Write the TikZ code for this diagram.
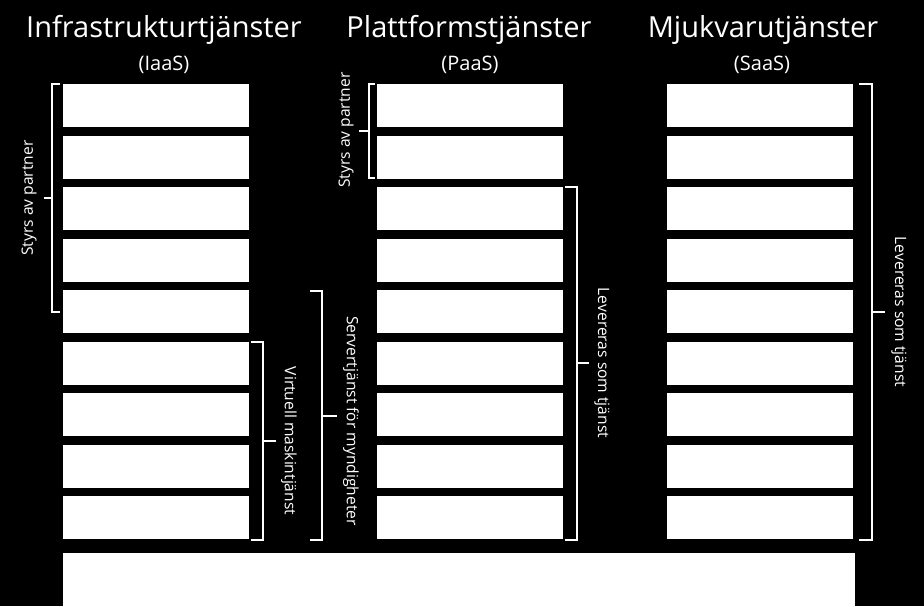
\documentclass[tikz,border=0pt]{standalone}
\usepackage{fontspec}
\setmainfont{Open Sans}
\begin{document}
\begin{tikzpicture}[x=1pt,y=-1pt,
  layer/.style={fill=white,draw=none,minimum width=186pt,minimum height=43pt,inner sep=0pt,anchor=north west},
  brk/.style={draw=white,line width=2pt},
  title/.style={text=white,font=\fontsize{29}{32}\selectfont,inner sep=0pt},
  sub/.style={text=white,font=\fontsize{20}{22}\selectfont,inner sep=0pt},
  lbl/.style={text=white,font=\fontsize{15.6}{17}\selectfont,inner sep=0pt}]
\fill[black] (0,0) rectangle (924,606);
\useasboundingbox (0,0) rectangle (924,606);
% titles
\node[title] (t1) at (164,30) {Infrastrukturtjänster};
\node[sub] (s1) at (164,65) {(IaaS)};
\node[title] (t2) at (469,30) {Plattformstjänster};
\node[sub] (s2) at (470,65) {(PaaS)};
\node[title] (t3) at (763,30) {Mjukvarutjänster};
\node[sub] (s3) at (762,65) {(SaaS)};
% layers
\foreach \i in {1,...,9}{
  \pgfmathsetmacro{\yy}{84+51.5*(\i-1)}
  \node[layer] (a\i) at (63,\yy) {};
  \node[layer] (b\i) at (377,\yy) {};
  \node[layer] (c\i) at (667,\yy) {};
}
\node[layer,minimum width=792pt,minimum height=53pt] (base) at (63,553) {};
% IaaS left bracket: Styrs av partner
\draw[brk] (60,84) -- (52,84) -- (52,312) -- (60,312);
\draw[brk] (52,198) -- (44,198);
\node[lbl,rotate=90] (l1) at (29,198) {Styrs av partner};
% IaaS right bracket: Virtuell maskintjänst
\draw[brk] (251,342) -- (263,342) -- (263,540) -- (251,540);
\draw[brk] (263,441) -- (276,441);
\node[lbl,rotate=-90] (l2) at (289,441) {Virtuell maskintjänst};
% Servertjänst för myndigheter
\draw[brk] (310,291) -- (322,291) -- (322,540) -- (310,540);
\draw[brk] (322,416) -- (337,416);
\node[lbl,rotate=-90] (l3) at (351,421) {Servertjänst för myndigheter};
% PaaS left bracket: Styrs av partner
\draw[brk] (375,84) -- (369,84) -- (369,178) -- (375,178);
\draw[brk] (369,131) -- (359,131);
\node[lbl,rotate=90] (l4) at (346,130) {Styrs av partner};
% PaaS right bracket: Levereras som tjänst
\draw[brk] (565,187) -- (577,187) -- (577,540) -- (565,540);
\draw[brk] (577,363) -- (589,363);
\node[lbl,rotate=-90] (l5) at (602,363) {Levereras som tjänst};
% SaaS right bracket: Levereras som tjänst
\draw[brk] (859,84) -- (872,84) -- (872,540) -- (859,540);
\draw[brk] (872,312) -- (885,312);
\node[lbl,rotate=-90] (l6) at (899,312) {Levereras som tjänst};
\end{tikzpicture}
\end{document}
